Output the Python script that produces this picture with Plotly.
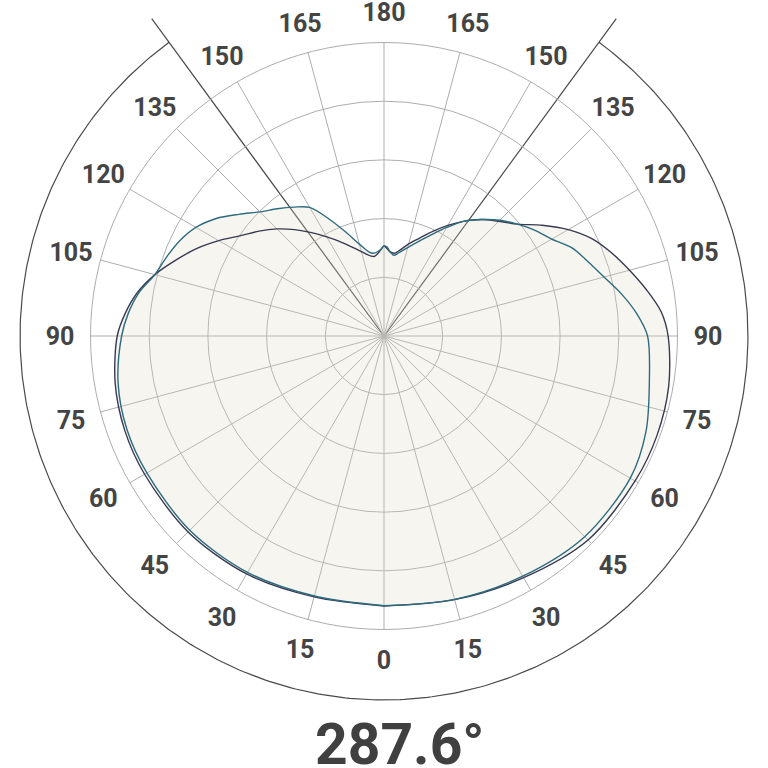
import numpy as np
import plotly.graph_objects as go

# ---------------- data ----------------
GAMMA = [0, 15, 30, 45, 60, 70, 80, 90, 95, 100, 105, 110, 115, 120, 125, 130,
         135, 140, 145, 150, 155, 160, 165, 170, 173, 176, 178, 180]

TEAL_RIGHT = [91.9, 92.9, 94.5, 96.7, 96.9, 95.0, 91.8, 89.8, 86.5, 82.2, 77.6, 74.0,
              70.8, 66.0, 62.8, 59.3, 55.8, 51.8, 47.8, 42.7, 38.0, 34.2, 31.2, 28.8,
              27.7, 28.8, 30.3, 30.7]
TEAL_LEFT = [91.9, 91.7, 93.0, 93.6, 93.3, 93.2, 92.0, 89.4, 87.5, 84.8, 80.8, 78.8,
             76.8, 74.0, 69.8, 64.5, 59.8, 56.6, 53.6, 50.6, 43.8, 37.5, 32.4, 29.0,
             28.4, 28.9, 29.6, 30.7]
DARK_RIGHT = [92.0, 93.0, 95.1, 98.3, 98.8, 99.0, 98.5, 96.8, 94.8, 90.8, 86.6, 82.6,
              78.3, 72.5, 65.8, 59.3, 55.3, 51.8, 47.8, 43.5, 39.3, 35.5, 32.5, 29.5,
              28.4, 28.8, 29.8, 30.7]
DARK_LEFT = [92.0, 92.0, 93.6, 94.4, 94.2, 94.0, 93.0, 90.9, 88.5, 85.3, 80.8, 75.5,
             70.5, 65.0, 59.6, 55.6, 51.6, 47.3, 43.0, 39.0, 35.5, 32.3, 29.8, 27.8,
             27.3, 28.3, 29.5, 30.7]

BEAM_ANGLE = 287.6
TICK_VALS = list(range(0, 360, 15))
TICK_TEXT = [str(v if v <= 180 else 360 - v) for v in TICK_VALS]
RADIAL_GRID = [20, 40, 60, 80]
RMAX = 100

# ---------------- layout constants ----------------
W, H = 768, 768
CX, CY = 384, 336          # polar centre in px (from top-left)
RPX = 293.5                # outer grid radius in px
PPU = RPX / RMAX           # px per radial unit
ARC_R = 124.0              # beam arc radius (radial units)
LINE_R = 134.0             # beam line length (radial units)
LABEL_R = 110.4            # angular tick label radius (radial units)
LABEL_DY = -3.0 / PPU      # small optical correction for text centring

TEAL = "#2d6b7f"
DARK = "#383a52"
GRID = "#adadad"
TEXT = "#444444"
FILL = "rgba(222,216,196,0.25)"


def full_curve(right, left):
    theta = list(GAMMA) + [360 - g for g in reversed(GAMMA[:-1])]
    r = list(right) + list(reversed(left[:-1]))
    return theta, r


teal_theta, teal_r = full_curve(TEAL_RIGHT, TEAL_LEFT)
dark_theta, dark_r = full_curve(DARK_RIGHT, DARK_LEFT)
union_r = np.maximum(np.array(teal_r), np.array(dark_r))

fig = go.Figure()

# beam arc + lines (cartesian overlay sharing the polar scale)
half = BEAM_ANGLE / 2
arc_t = np.radians(np.linspace(-half, half, 400))
fig.add_trace(go.Scatter(x=ARC_R * np.sin(arc_t), y=-ARC_R * np.cos(arc_t),
                         mode="lines", line=dict(color="#4a4a4a", width=1.2),
                         hoverinfo="skip", xaxis="x", yaxis="y"))
for s in (-1, 1):
    a = np.radians(s * half)
    fig.add_trace(go.Scatter(x=[0, LINE_R * np.sin(a)], y=[0, -LINE_R * np.cos(a)],
                             mode="lines", line=dict(color="#4a4a4a", width=1.2),
                             hoverinfo="skip", xaxis="x", yaxis="y"))

# angular tick labels, centred on a fixed radius outside the grid
tick_rad = np.radians(np.array(TICK_VALS, dtype=float))
fig.add_trace(go.Scatter(x=LABEL_R * np.sin(tick_rad),
                         y=-LABEL_R * np.cos(tick_rad) + LABEL_DY,
                         mode="text", text=TICK_TEXT, textposition="middle center",
                         textfont=dict(family="Roboto", size=25, color=TEXT, weight="bold"),
                         hoverinfo="skip", xaxis="x", yaxis="y"))

# fill (union of both curves)
fig.add_trace(go.Scatterpolar(r=union_r, theta=teal_theta, mode="lines",
                              line=dict(width=0, shape="spline", smoothing=0.9),
                              fill="toself", fillcolor=FILL, hoverinfo="skip"))
# curves
fig.add_trace(go.Scatterpolar(r=dark_r + [dark_r[0]], theta=dark_theta + [dark_theta[0]],
                              mode="lines",
                              line=dict(color=DARK, width=1.4, shape="spline", smoothing=0.9)))
fig.add_trace(go.Scatterpolar(r=teal_r + [teal_r[0]], theta=teal_theta + [teal_theta[0]],
                              mode="lines",
                              line=dict(color=TEAL, width=1.4, shape="spline", smoothing=0.9)))

fig.update_layout(
    width=W, height=H, margin=dict(l=0, r=0, t=0, b=0),
    paper_bgcolor="white", plot_bgcolor="rgba(0,0,0,0)", showlegend=False,
    font=dict(family="Roboto", color=TEXT),
    xaxis=dict(domain=[0, 1], range=[-CX / PPU, (W - CX) / PPU], visible=False, fixedrange=True),
    yaxis=dict(domain=[0, 1], range=[-(H - CY) / PPU, CY / PPU], visible=False, fixedrange=True),
    polar=dict(
        domain=dict(x=[(CX - RPX) / W, (CX + RPX) / W],
                    y=[(H - CY - RPX) / H, (H - CY + RPX) / H]),
        bgcolor="rgba(0,0,0,0)",
        angularaxis=dict(rotation=270, direction="counterclockwise",
                         tickmode="array", tickvals=TICK_VALS, ticktext=TICK_TEXT,
                         showticklabels=False, ticks="",
                         showline=True, linecolor=GRID, linewidth=1,
                         gridcolor=GRID, gridwidth=1),
        radialaxis=dict(range=[0, RMAX], tickvals=RADIAL_GRID, showticklabels=False,
                        showline=False, ticks="", gridcolor=GRID, gridwidth=1),
    ),
    annotations=[dict(text=f"{BEAM_ANGLE:.1f}°", x=400 / W, y=(H - 744) / H,
                      xref="paper", yref="paper", xanchor="center", yanchor="middle",
                      showarrow=False,
                      font=dict(family="Roboto", size=57, color="#404040", weight="bold"))],
)

fig.write_html("out.html", config={"displayModeBar": False},
               post_script="document.body.style.margin='0';document.body.style.padding='0';")
